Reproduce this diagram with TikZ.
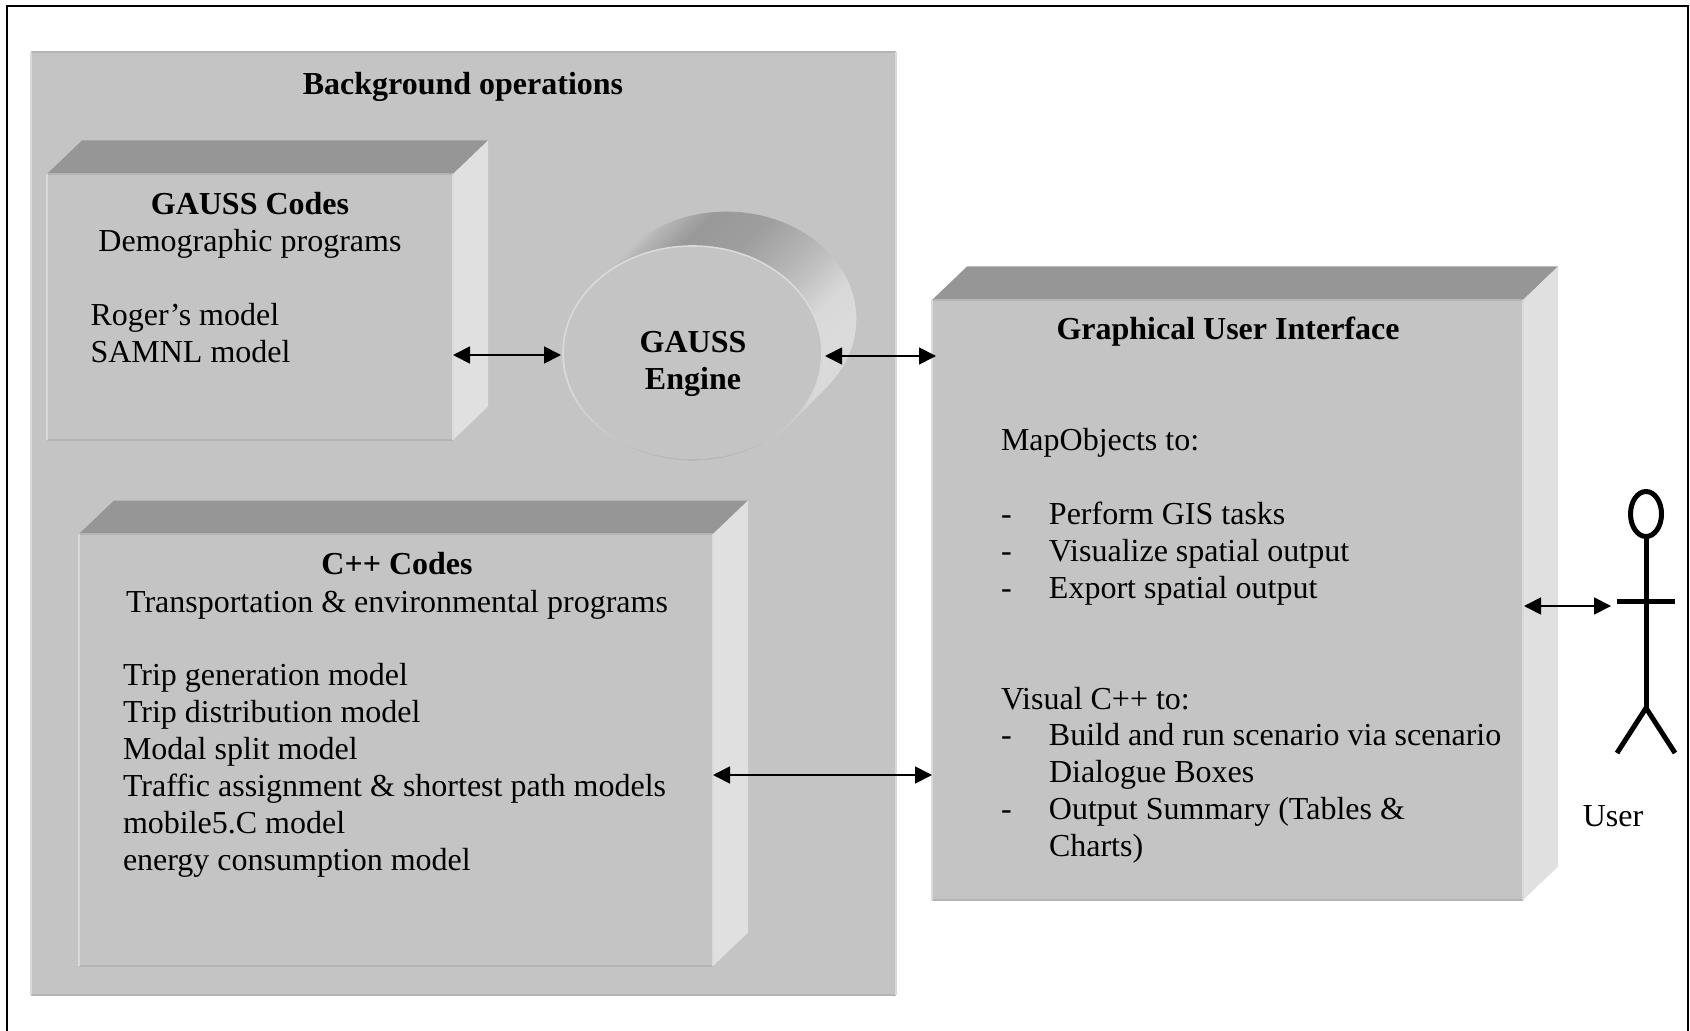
\documentclass[tikz,border=0pt]{standalone}
\usepackage{fontspec}
\setmainfont{Liberation Serif}
\usetikzlibrary{arrows.meta,shapes.geometric}
\definecolor{facegray}{HTML}{C4C4C4}
\definecolor{topgray}{HTML}{969696}
\definecolor{sidegray}{HTML}{E0E0E0}
\definecolor{edgedark}{HTML}{B4B4B4}
\definecolor{edgelight}{HTML}{DADADA}
\newcommand{\bodyfont}{\fontsize{16}{18.45}\selectfont}
\newcommand{\bevelbox}[5]{%
  \fill[topgray] (#2,#3) -- ++(35,-33.5) -- ++(#4,0) -- ++(-35,33.5) -- cycle;
  \fill[sidegray] (#2+#4,#3) -- ++(35,-33.5) -- ++(0,#5) -- ++(-35,33.5) -- cycle;
  \node[facebox,minimum width=#4*0.5pt,minimum height=#5*0.5pt] (#1) at (#2,#3) {};
  \draw[bevdark] (#1.north west) -- (#1.north east);
  \draw[bevdark] (#1.south west) -- (#1.south east);
  \draw[bevlight] (#1.north west) -- (#1.south west);
  \draw[bevlight] (#1.north east) -- (#1.south east);
}
\newcommand{\dashitem}[1]{\makebox[24pt][l]{-}#1}
\tikzset{
  facebox/.style={rectangle,fill=facegray,anchor=north west,inner sep=0pt,outer sep=0pt},
  bevdark/.style={edgedark,line width=0.8pt},
  bevlight/.style={edgelight,line width=0.8pt},
  txt/.style={font=\bodyfont,inner sep=0pt,outer sep=0pt,align=left,anchor=north west},
  title/.style={font=\bodyfont\bfseries,inner sep=0pt,outer sep=0pt,align=center,anchor=north},
  subtitle/.style={font=\bodyfont,inner sep=0pt,outer sep=0pt,align=center,anchor=north},
  biarrow/.style={draw=black,line width=0.9pt,{Triangle[length=8.5pt,width=8.5pt]}-{Triangle[length=8.5pt,width=8.5pt]}},
  stick/.style={draw=black,line width=2.5pt},
}
\begin{document}
\begin{tikzpicture}[x=0.5pt,y=-0.5pt]
\useasboundingbox (0,0) rectangle (1690,1031);
% outer frame (bottom lies off the page)
\draw[black,line width=1pt] (6.5,1031) -- (6.5,6) -- (1688,6) -- (1688,1031);
% background panel
\node[facebox,minimum width=432.5pt,minimum height=471.5pt] (panel) at (31,52) {};
\draw[bevdark] (panel.north west) -- (panel.north east);
\draw[bevdark] (panel.south west) -- (panel.south east);
\draw[bevlight] (panel.north west) -- (panel.south west);
\draw[bevlight] (panel.north east) -- (panel.south east);
\node[title] (bgtitle) at (463,72) {Background operations};
% solid boxes
\bevelbox{gausscodes}{47}{174}{406}{266}
\bevelbox{cppcodes}{79}{534}{634}{432}
\bevelbox{gui}{932}{300}{591}{600}
% cylinder extrusion of the engine
\foreach \ta/\tb/\ga/\gb in {-52/-30/.78/.85,-30/0/.85/.86,0/20/.86/.85,20/45/.85/.72,45/70/.72/.62,70/95/.62/.60,95/110/.60/.68,110/132/.68/.77}{
  \foreach \k in {0,...,11}{
    \pgfmathsetmacro{\tone}{\ta+(\tb-\ta)*\k/12}
    \pgfmathsetmacro{\ttwo}{\ta+(\tb-\ta)*(\k+1)/12}
    \pgfmathsetmacro{\gval}{\ga+(\gb-\ga)*(\k+.5)/12}
    \definecolor{slicegray}{gray}{\gval}
    \path[fill=slicegray,draw=slicegray,line width=0.3pt]
      ({692.5+129.5*cos(\tone)},{353-107*sin(\tone)}) --
      ({726.5+129.5*cos(\tone)},{319-107*sin(\tone)}) --
      ({726.5+129.5*cos(\ttwo)},{319-107*sin(\ttwo)}) --
      ({692.5+129.5*cos(\ttwo)},{353-107*sin(\ttwo)}) -- cycle;
  }
}
\node[ellipse,fill=facegray,draw=edgelight,line width=0.8pt,minimum width=129.5pt,minimum height=107pt,inner sep=0pt,outer sep=0pt] (engine) at (692.5,353) {};
\foreach \t in {184,188,...,352}{
  \pgfmathsetmacro{\gval}{.855-.14*abs(sin(\t))^2}
  \definecolor{rimgray}{gray}{\gval}
  \draw[rimgray,line width=0.8pt] ({692.5+129.5*cos(\t)},{353-107*sin(\t)}) -- ({692.5+129.5*cos(\t+4)},{353-107*sin(\t+4)});
}
\node[title,font=\fontsize{16}{18.7}\selectfont\bfseries] (enginetext) at (693,331) {GAUSS\\Engine};
% texts
\node[title] (gausstitle) at (250,192) {GAUSS Codes};
\node[subtitle] (gausssub) at (250,229) {Demographic programs};
\node[txt] (gaussmodels) at (90.5,303) {Roger’s model\\SAMNL model};
\node[title] (cpptitle) at (397,552.5) {C++ Codes};
\node[subtitle] (cppsub) at (397,590) {Transportation \& environmental programs};
\node[txt] (cppmodels) at (123,663.5) {Trip generation model\\Trip distribution model\\Modal split model\\Traffic assignment \& shortest path models\\mobile5.C model\\energy consumption model};
\node[title] (guititle) at (1228,317) {Graphical User Interface};
\node[txt] (guitext) at (1001,428.5) {MapObjects to:\\\mbox{}\\\dashitem{Perform GIS tasks}\\\dashitem{Visualize spatial output}\\\dashitem{Export spatial output}\\\mbox{}\\\mbox{}\\Visual C++ to:\\\dashitem{Build and run scenario via scenario}\\\makebox[24pt]{}Dialogue Boxes\\\dashitem{Output Summary (Tables \&}\\\makebox[24pt]{}Charts)};
% user figure
\node[ellipse,draw=black,line width=2.5pt,minimum width=15.5pt,minimum height=22.5pt,inner sep=0pt,outer sep=0pt] (head) at (1646,514) {};
\coordinate (hip) at (1646,708);
\coordinate (armL) at (1617,601);
\coordinate (armR) at (1675,601);
\coordinate (legL) at (1617,753);
\coordinate (legR) at (1675,753);
\draw[stick] (head.south) -- (hip);
\draw[stick] (armL) -- (armR);
\draw[stick] (legL) -- (hip) -- (legR);
\node[txt,anchor=north] (userlabel) at (1613,806) {User};
% connectors
\coordinate (uarrow) at (1611,606);
\draw[biarrow] ([yshift=-1pt]gausscodes.east |- engine.west) -- ([xshift=-1pt,yshift=-1pt]engine.west);
\draw[biarrow] ([xshift=1.5pt,yshift=-1.5pt]engine.east) -- ([xshift=2pt,yshift=-1.5pt]gui.west |- engine.east);
\draw[biarrow] (cppcodes.east |- 0,775) -- (gui.west |- 0,775);
\draw[biarrow] ([xshift=0.5pt]gui.east |- uarrow) -- (uarrow);
\end{tikzpicture}
\end{document}
